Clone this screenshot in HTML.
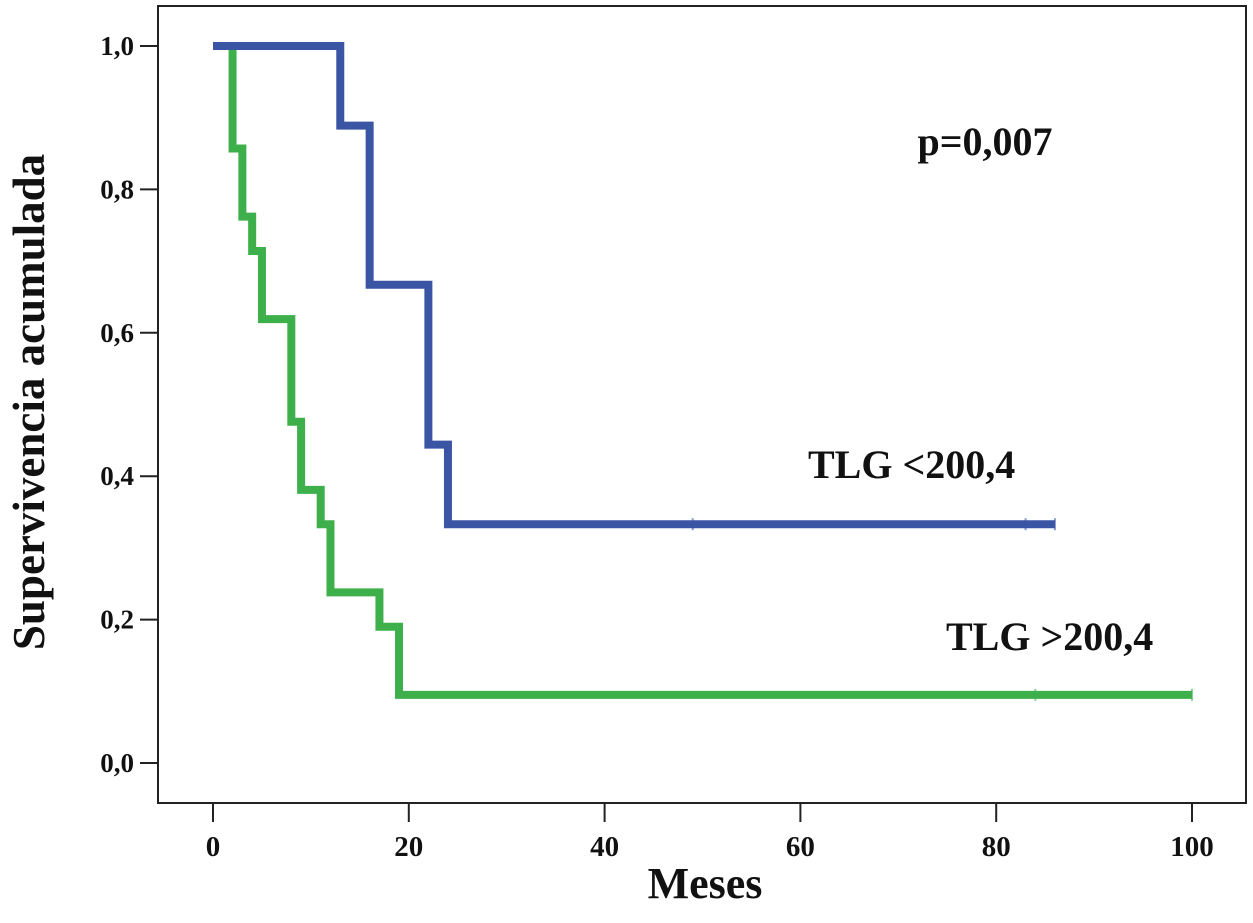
<!DOCTYPE html>
<html><head><meta charset="utf-8"><style>
body{margin:0;background:#fff;}
svg text{font-family:"Liberation Serif",serif;font-weight:bold;fill:#111;}
</style></head><body>
<svg id="chart" width="1253" height="918">
<rect x="158" y="6" width="1088" height="797" fill="none" stroke="#222" stroke-width="2"/>
<g id="axes"></g>
<g id="series"></g>
<text x="985" y="155" font-size="40" text-anchor="middle">p=0,007</text>
<text x="808" y="478" font-size="40">TLG &lt;200,4</text>
<text x="946" y="650" font-size="40">TLG &gt;200,4</text>
<text x="705" y="898" font-size="44" text-anchor="middle">Meses</text>
<text transform="translate(44,402) rotate(-90)" font-size="45" text-anchor="middle">Supervivencia acumulada</text>
</svg>
<script>
const xTicks=[0,20,40,60,80,100];
const yTicks=[0,0.2,0.4,0.6,0.8,1.0];
const yTickLabels=["0,0","0,2","0,4","0,6","0,8","1,0"];
const lowTimes=[0,13,16,22,24,86];
const lowSurv=[1.0,0.889,0.667,0.444,0.333,0.333];
const lowCensor=[49,83,86];
const highTimes=[0,2,3,4,5,8,9,11,12,17,19,100];
const highSurv=[1.0,0.857,0.762,0.714,0.619,0.476,0.381,0.333,0.238,0.190,0.095,0.095];
const highCensor=[84,100];

const X=v=>213+v*9.79;
const Y=v=>763-v*717;
const NS="http://www.w3.org/2000/svg";
const axes=document.getElementById('axes'), ser=document.getElementById('series');
function mk(tag,attrs,parent){const e=document.createElementNS(NS,tag);for(const k in attrs)e.setAttribute(k,attrs[k]);parent.appendChild(e);return e;}
xTicks.forEach(t=>{
  const l=mk('line',{x1:X(t),x2:X(t),y1:803,y2:822,stroke:'#222','stroke-width':2},axes);
  
  
  const tx=mk('text',{x:X(t),y:856,'font-size':29,'text-anchor':'middle'},axes);tx.textContent=t;
  
  
});
yTicks.forEach((t,i)=>{
  const l=mk('line',{x1:140,x2:158,y1:Y(t),y2:Y(t),stroke:'#222','stroke-width':2},axes);
  
  
  const tx=mk('text',{x:134,y:Y(t)+9,'font-size':27,'text-anchor':'end'},axes);tx.textContent=yTickLabels[i];
  
  
});
function stepPath(ts,ss){let d='M'+X(ts[0])+','+Y(ss[0]);for(let i=1;i<ts.length;i++){d+=' H'+X(ts[i])+' V'+Y(ss[i]);}return d;}
function survAt(ts,ss,t){let s=ss[0];for(let i=0;i<ts.length;i++)if(ts[i]<=t)s=ss[i];return s;}
function drawSeries(ts,ss,cens,color,name){
  const p=mk('path',{d:stepPath(ts,ss),fill:'none',stroke:color,'stroke-width':8,'stroke-linejoin':'miter','stroke-linecap':'butt'},ser);
  
  
  cens.forEach(c=>{const y=Y(survAt(ts,ss,c));
    const m=mk('line',{x1:X(c),x2:X(c),y1:y-6,y2:y+6,stroke:color,'stroke-width':2,opacity:0.6},ser);
    
    });
}
drawSeries(highTimes,highSurv,highCensor,'#3db04b','tlg-high');
drawSeries(lowTimes,lowSurv,lowCensor,'#3b55a5','tlg-low');
</script>
</body></html>
